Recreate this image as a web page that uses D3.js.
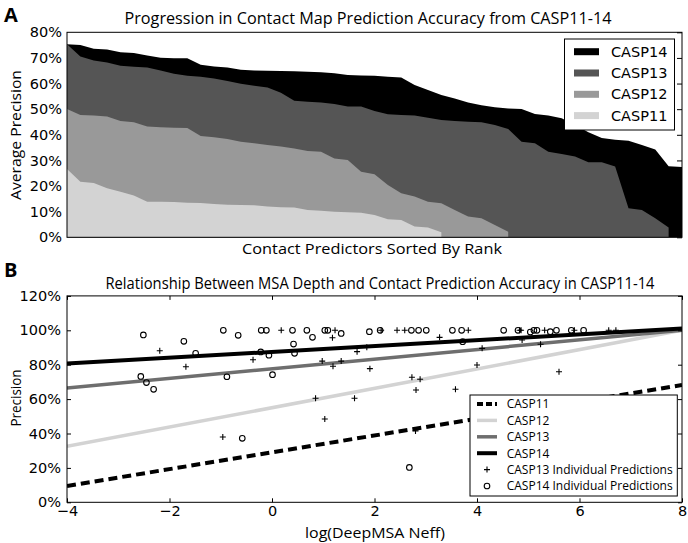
<!DOCTYPE html>
<html><head><meta charset="utf-8">
<script src="https://cdn.jsdelivr.net/npm/d3@7"></script>
<style>body{margin:0;background:#fff}svg{display:block}</style>
</head><body><svg id="c" width="688" height="543"></svg>
<script>
// ---- Data: panel A (average precision per ranked predictor, %) ----
const casp14 = [75.3,75.0,73.6,73.3,72.2,71.9,70.9,70.1,69.9,69.9,67.3,66.7,66.3,65.4,65.1,65.0,64.9,64.8,64.6,64.4,64.0,63.3,63.1,63.0,62.7,62.4,59.4,57.5,55.5,54.2,52.6,51.5,50.8,50.3,50.1,48.1,47.5,46.5,43.8,41.0,38.8,38.1,37.7,36.0,34.3,27.7,27.4];
const casp13 = [75.3,70.6,69.0,68.2,66.9,66.6,66.3,65.1,63.8,63.0,62.7,62.0,61.0,59.9,59.1,58.5,56.4,53.3,52.9,52.6,52.0,51.0,51.0,49.3,48.0,47.7,47.5,46.7,45.8,45.4,45.1,44.9,43.8,42.3,37.3,36.7,33.4,32.5,31.5,29.3,29.3,27.6,11.3,10.7,7.4,3.8];
const casp12 = [50.1,47.7,47.5,47.1,45.4,44.9,43.2,42.9,42.8,42.7,39.5,39.0,38.4,37.3,36.7,36.0,35.4,34.7,33.7,33.4,30.8,30.2,25.6,24.6,20.4,17.2,15.9,13.9,13.3,10.7,8.1,7.4,4.8,2.2];
const casp11 = [26.7,21.7,21.2,19.1,17.8,16.3,13.9,13.9,13.8,13.5,13.4,13.0,12.7,12.6,12.5,12.0,11.7,11.6,10.7,10.4,10.0,9.8,9.6,8.7,7.0,6.8,4.2,3.8,2.0];
const seriesNamesA = ["CASP14","CASP13","CASP12","CASP11"];
const yTicksA = [0,10,20,30,40,50,60,70,80];

// ---- Data: panel B ----
const fitX = [-4, 8];
const fit11 = [9.5, 68.2];
const fit12 = [32.5, 100];
const fit13 = [66.5, 100];
const fit14 = [80.7, 101];
const c13x = [-2.19,-1.68,-0.96,-0.37,0.18,1.23,1.18,0.98,1.35,1.19,0.85,1.03,1.61,1.66,1.85,1.91,2.13,2.44,2.59,2.73,2.89,2.81,2.80,3.27,3.58,3.83,4.00,4.10,4.83,4.86,5.32,5.90,6.57,6.71,4.88,5.24,5.60];
const c13y = [88.1,78.8,38.0,82.9,100,100,95.7,82.1,82.1,79.1,60.5,48.4,60.5,87.6,90.1,77.7,100,100,100,72.7,71.5,65.3,41.5,95.9,65.7,100,79.8,89.5,100,100,100,100,100,100,94.4,91.9,75.9];
const c14x = [-2.51,-2.56,-2.45,-2.31,-1.72,-1.49,-0.95,-0.88,-0.66,-0.58,-0.21,-0.11,-0.22,-0.06,0.01,0.40,0.68,0.79,0.42,0.44,1.03,1.09,1.35,1.90,2.11,2.72,2.86,3.01,3.52,3.70,3.72,2.68,4.52,4.80,5.04,5.11,5.17,5.43,5.55,5.84,6.08];
const c14y = [97.3,73.2,69.6,65.7,93.6,86.6,100,73.0,97.1,37.2,100,100,87.4,85.5,74.2,100,100,95.9,92.0,86.6,100,100,98.2,99.2,100,100,100,100,100,100,93.4,20.3,100,100,99.0,100,100,99.2,100,100,100];
const xTicksB = [-4,-2,0,2,4,6,8];
const yTicksB = [0,20,40,60,80,100,120];
const legendB = ["CASP11","CASP12","CASP13","CASP14","CASP13 Individual Predictions","CASP14 Individual Predictions"];

const svg = d3.select("#c");
const tickFont = "DejaVu Sans, sans-serif";
const labFont = "Open Sans, Lato, sans-serif";

function fitText(sel, w) { sel.attr("textLength", w).attr("lengthAdjust", "spacingAndGlyphs"); }

// ================= Panel A =================
const xA = d3.scaleLinear().domain([0, 46]).range([67, 682]);
const yA = d3.scaleLinear().domain([0, 80]).range([237.3, 32.3]);
const fillsA = {CASP14:"#000000", CASP13:"#555555", CASP12:"#999999", CASP11:"#d3d3d3"};
const dataA = {CASP14:casp14, CASP13:casp13, CASP12:casp12, CASP11:casp11};
const areaA = d3.area().x((d,i)=>xA(i)).y0(yA(0)).y1(d=>yA(d));
seriesNamesA.forEach(n => {
  svg.append("path").datum(dataA[n]).attr("d", areaA).attr("fill", fillsA[n]);
});
const axLA = svg.append("g").attr("transform","translate(67,0)")
  .call(d3.axisLeft(yA).tickValues(yTicksA).tickFormat(d=>d+"%").tickSizeInner(0).tickSizeOuter(0).tickPadding(5));
const axRA = svg.append("g").attr("transform","translate(682,0)")
  .call(d3.axisRight(yA).tickValues(yTicksA).tickFormat("").tickSizeInner(-5).tickSizeOuter(0));
[axLA, axRA].forEach(g => { g.select(".domain").remove(); g.selectAll("text").attr("font-family", tickFont).attr("font-size", 14.5).attr("fill","#000"); g.selectAll("line").attr("stroke","#000"); });
svg.append("rect").attr("x",67).attr("y",32.3).attr("width",615).attr("height",205).attr("fill","none").attr("stroke","#000").attr("stroke-width",1);

const lgA = svg.append("g");
lgA.append("rect").attr("x",564.5).attr("y",39).attr("width",110).attr("height",91).attr("fill","#fff").attr("stroke","#000").attr("stroke-width",1);
seriesNamesA.forEach((n,i) => {
  const cy = 51.7 + i*21.3;
  lgA.append("rect").attr("x",574).attr("y",cy-3.5).attr("width",25).attr("height",7).attr("fill",fillsA[n]);
  lgA.append("text").attr("x",611).attr("y",cy+5).attr("font-family",tickFont).attr("font-size",14.5).text(n);
});

svg.append("text").attr("x",4).attr("y",22).attr("font-family",labFont).attr("font-weight","bold").attr("font-size",20).text("A");
svg.append("text").attr("x",368).attr("y",24).attr("text-anchor","middle").attr("font-family",labFont).attr("font-size",15.5)
  .text("Progression in Contact Map Prediction Accuracy from CASP11-14").call(fitText, 487);
svg.append("text").attr("x",372).attr("y",254).attr("text-anchor","middle").attr("font-family",labFont).attr("font-size",14.5)
  .text("Contact Predictors Sorted By Rank").call(fitText, 260);
svg.append("text").attr("transform","translate(21,135) rotate(-90)").attr("text-anchor","middle").attr("font-family",labFont).attr("font-size",14.5)
  .text("Average Precision").call(fitText, 130);

// ================= Panel B =================
const xB = d3.scaleLinear().domain([-4, 8]).range([67, 682]);
const yB = d3.scaleLinear().domain([0, 120]).range([502.3, 295.9]);
const lineB = d3.line().x(d=>xB(d[0])).y(d=>yB(d[1]));
const fits = [
  {name:"CASP11", v:fit11, color:"#000", w:4, dash:"9,5"},
  {name:"CASP12", v:fit12, color:"#d3d3d3", w:3.5, dash:null},
  {name:"CASP13", v:fit13, color:"#6e6e6e", w:3.5, dash:null},
  {name:"CASP14", v:fit14, color:"#000", w:4, dash:null}
];
svg.append("defs").append("clipPath").attr("id","clipB").append("rect").attr("x",67).attr("y",295.9).attr("width",615).attr("height",206.4);
const plotB = svg.append("g").attr("clip-path","url(#clipB)");
fits.forEach(f => {
  plotB.append("path").datum(fitX.map((x,i)=>[x, f.v[i]])).attr("d", lineB).attr("fill","none")
    .attr("stroke", f.color).attr("stroke-width", f.w).attr("stroke-dasharray", f.dash);
});
const plusPath = "M-3,0H3M0,-3V3";
plotB.selectAll(".p13").data(c13x.map((x,i)=>[x,c13y[i]])).join("path").attr("class","p13")
  .attr("transform", d=>`translate(${xB(d[0])},${yB(d[1])})`).attr("d", plusPath).attr("stroke","#000").attr("stroke-width",1.1).attr("fill","none");
plotB.selectAll(".p14").data(c14x.map((x,i)=>[x,c14y[i]])).join("circle").attr("class","p14")
  .attr("cx", d=>xB(d[0])).attr("cy", d=>yB(d[1])).attr("r",2.8).attr("stroke","#000").attr("stroke-width",1.1).attr("fill","none");

const axBB = svg.append("g").attr("transform","translate(0,502.3)")
  .call(d3.axisBottom(xB).tickValues(xTicksB).tickFormat(d=>d<0?"\u2212"+Math.abs(d):d).tickSizeInner(-4).tickSizeOuter(0).tickPadding(3));
const axTB = svg.append("g").attr("transform","translate(0,295.9)")
  .call(d3.axisTop(xB).tickValues(xTicksB).tickFormat("").tickSizeInner(-4).tickSizeOuter(0));
const axLB = svg.append("g").attr("transform","translate(67,0)")
  .call(d3.axisLeft(yB).tickValues(yTicksB).tickFormat(d=>d+"%").tickSizeInner(-4).tickSizeOuter(0).tickPadding(6));
const axRB = svg.append("g").attr("transform","translate(682,0)")
  .call(d3.axisRight(yB).tickValues(yTicksB).tickFormat("").tickSizeInner(-4).tickSizeOuter(0));
[axBB, axTB, axLB, axRB].forEach(g => { g.select(".domain").remove(); g.selectAll("text").attr("font-family", tickFont).attr("font-size", 14.5).attr("fill","#000"); g.selectAll("line").attr("stroke","#000"); });
svg.append("rect").attr("x",67).attr("y",295.9).attr("width",615).attr("height",206.4).attr("fill","none").attr("stroke","#000").attr("stroke-width",1);

const lgB = svg.append("g");
lgB.append("rect").attr("x",470).attr("y",395).attr("width",207.3).attr("height",101).attr("fill","#fff").attr("stroke","#000").attr("stroke-width",1);
legendB.forEach((n,i) => {
  const cy = 404 + i*16.4;
  if (i < 4) {
    const f = fits[i];
    lgB.append("line").attr("x1",477).attr("x2",497).attr("y1",cy).attr("y2",cy).attr("stroke",f.color).attr("stroke-width",f.w).attr("stroke-dasharray", f.dash ? "6,3" : null);
  } else if (i === 4) {
    lgB.append("path").attr("transform",`translate(487,${cy})`).attr("d",plusPath).attr("stroke","#000").attr("stroke-width",1.1);
  } else {
    lgB.append("circle").attr("cx",487).attr("cy",cy).attr("r",2.8).attr("stroke","#000").attr("stroke-width",1.1).attr("fill","none");
  }
  lgB.append("text").attr("x",506.7).attr("y",cy+4.3).attr("font-family",labFont).attr("font-size",12).text(n);
});

svg.append("text").attr("x",4).attr("y",277).attr("font-family",labFont).attr("font-weight","bold").attr("font-size",20).text("B");
svg.append("text").attr("x",380).attr("y",289).attr("text-anchor","middle").attr("font-family",labFont).attr("font-size",15.5)
  .text("Relationship Between MSA Depth and Contact Prediction Accuracy in CASP11-14").call(fitText, 549);
svg.append("text").attr("x",375).attr("y",538).attr("text-anchor","middle").attr("font-family",labFont).attr("font-size",14)
  .text("log(DeepMSA Neff)").call(fitText, 140);
svg.append("text").attr("transform","translate(21,398) rotate(-90)").attr("text-anchor","middle").attr("font-family",labFont).attr("font-size",14.5)
  .text("Precision").call(fitText, 57);
</script></body></html>
